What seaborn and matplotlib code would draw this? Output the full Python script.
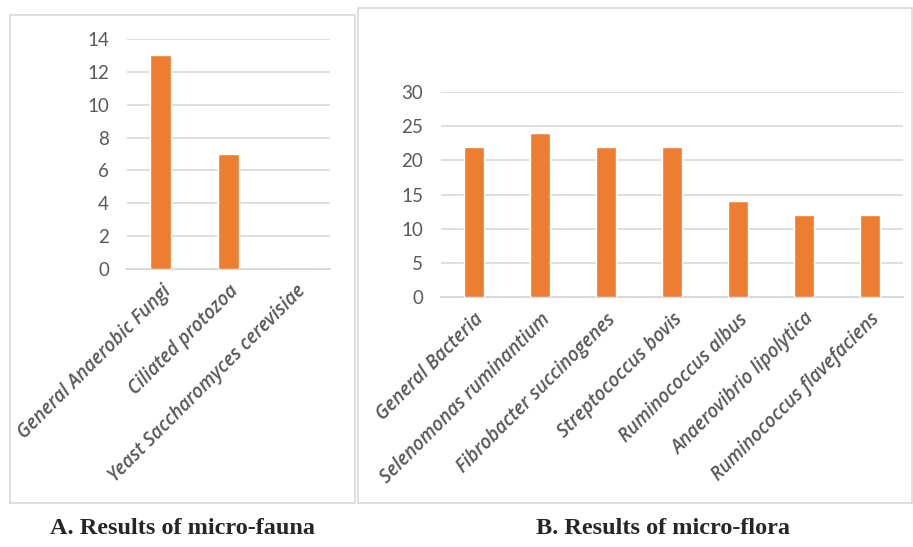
import matplotlib
matplotlib.use("Agg")
import matplotlib.pyplot as plt
import seaborn as sns
import pandas as pd
from matplotlib.patches import Rectangle

##### DADOS ######################################################################
fauna_cats = ["General Anaerobic Fungi", "Ciliated protozoa", "Yeast Saccharomyces cerevisiae"]
fauna_vals = [13, 7, 0]
fauna_ticks = [0, 2, 4, 6, 8, 10, 12, 14]

flora_cats = ["General Bacteria", "Selenomonas ruminantium", "Fibrobacter succinogenes",
              "Streptococcus bovis", "Ruminococcus albus", "Anaerovibrio lipolytica",
              "Ruminococcus flavefaciens"]
flora_vals = [22, 24, 22, 22, 14, 12, 12]
flora_ticks = [0, 5, 10, 15, 20, 25, 30]

caption_a = "A. Results of micro-fauna"
caption_b = "B. Results of micro-flora"

##### ESTILO #####################################################################
sns.set_style("white")
plt.rcParams["font.family"] = ["Lato", "DejaVu Sans"]
BAR = "#ED7D31"
GRID = "#D9D9D9"
TXT = "#595959"

W, H = 913, 547
fig = plt.figure(figsize=(W / 100, H / 100), dpi=100)

def px_axes(x0, x1, ytop, ybot):
    return fig.add_axes([x0 / W, 1 - ybot / H, (x1 - x0) / W, (ybot - ytop) / H])

def painel(ax, cats, vals, ticks, largura, pad):
    df = pd.DataFrame({"cat": cats, "val": vals})
    sns.barplot(data=df, x="cat", y="val", color=BAR, width=largura, ax=ax,
                saturation=1, zorder=3)
    ax.set_xlim(-0.5, len(cats) - 0.5)
    ax.set_ylim(0, ticks[-1])
    ax.set_yticks(ticks)
    ax.set_xlabel("")
    ax.set_ylabel("")
    ax.yaxis.grid(True, color=GRID, linewidth=1.2, zorder=0)
    ax.set_axisbelow(True)
    for s in ["top", "right", "left"]:
        ax.spines[s].set_visible(False)
    ax.spines["bottom"].set_color(GRID)
    ax.spines["bottom"].set_linewidth(1.5)
    ax.tick_params(axis="y", length=0, pad=pad, labelsize=13.5, labelcolor=TXT)
    ax.tick_params(axis="x", length=0, pad=9, labelcolor=TXT)
    ax.set_xticks(range(len(cats)))
    ax.set_xticklabels(cats, rotation=45, ha="right", rotation_mode="anchor",
                       style="italic", weight="semibold",
                       family=["Open Sans", "DejaVu Sans"], fontsize=13.5)

##### PAINEL A ###################################################################
ax1 = px_axes(127, 330, 39, 269)
painel(ax1, fauna_cats, fauna_vals, fauna_ticks, 0.31, 13)

##### PAINEL B ###################################################################
ax2 = px_axes(441, 903, 92, 297)
painel(ax2, flora_cats, flora_vals, flora_ticks, 0.31, 13)

##### MOLDURAS ###################################################################
def moldura(x0, x1, ytop, ybot):
    fig.add_artist(Rectangle((x0 / W, 1 - ybot / H), (x1 - x0) / W, (ybot - ytop) / H,
                             transform=fig.transFigure, fill=False,
                             edgecolor=GRID, linewidth=1.2))

moldura(10, 355, 15, 503)
moldura(358, 912, 8, 503)

##### LEGENDAS ###################################################################
fig.text(182.5 / W, 1 - 528 / H, caption_a, ha="center", va="center",
         family=["Liberation Serif", "DejaVu Serif"], weight="bold", fontsize=17.5)
fig.text(663 / W, 1 - 528 / H, caption_b, ha="center", va="center",
         family=["Liberation Serif", "DejaVu Serif"], weight="bold", fontsize=17.5)

fig.savefig("out.png", dpi=100)
